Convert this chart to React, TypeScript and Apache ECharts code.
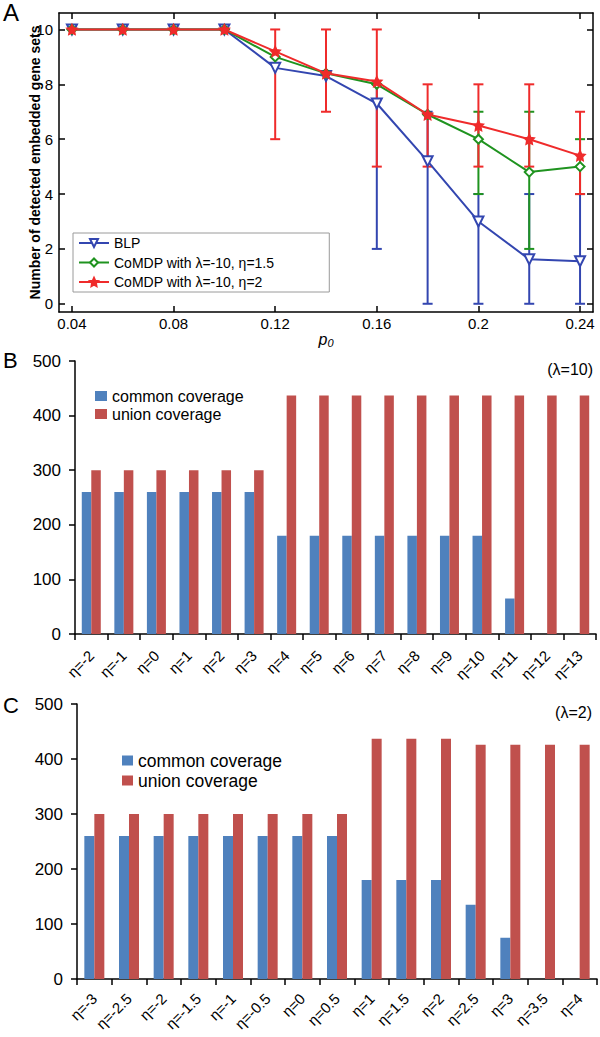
import React, { useEffect, useRef } from "react";
import * as echarts from "echarts";

// ---------- Panel A data ----------
const pValues = [0.04, 0.06, 0.08, 0.1, 0.12, 0.14, 0.16, 0.18, 0.2, 0.22, 0.24];
const pTicks = [0.04, 0.08, 0.12, 0.16, 0.2, 0.24];
const aYTicks = [0, 2, 4, 6, 8, 10];
const blpValues = [10, 10, 10, 10, 8.6, 8.3, 7.3, 5.2, 3.0, 1.62, 1.55];
const comdp15Values = [10, 10, 10, 10, 9.0, 8.4, 8.0, 6.9, 6.0, 4.8, 5.0];
const comdp2Values = [10, 10, 10, 10, 9.2, 8.4, 8.1, 6.9, 6.5, 6.0, 5.4];
// error bars [low, high]
const blpErr: ([number, number] | null)[] = [null, null, null, null, null, null, [2, 8], [0, 7], [0, 4], [0, 4], [0, 4]];
const comdp15Err: ([number, number] | null)[] = [null, null, null, null, null, null, null, null, [4, 7], [2, 7], [4, 6]];
const comdp2Err: ([number, number] | null)[] = [null, null, null, null, [6, 10], [7, 10], [5, 10], [5, 8], [5, 8], [5, 8], [4, 7]];

const nameBLP = "BLP";
const nameC15 = "CoMDP with λ=-10, η=1.5";
const nameC2 = "CoMDP with λ=-10, η=2";

// ---------- Panel B data (λ=10) ----------
const etaB = ["η=-2", "η=-1", "η=0", "η=1", "η=2", "η=3", "η=4", "η=5", "η=6", "η=7", "η=8", "η=9", "η=10", "η=11", "η=12", "η=13"];
const commonB = [260, 260, 260, 260, 260, 260, 180, 180, 180, 180, 180, 180, 180, 65, 0, 0];
const unionB = [300, 300, 300, 300, 300, 300, 437, 437, 437, 437, 437, 437, 437, 437, 437, 437];

// ---------- Panel C data (λ=2) ----------
const etaC = ["η=-3", "η=-2.5", "η=-2", "η=-1.5", "η=-1", "η=-0.5", "η=0", "η=0.5", "η=1", "η=1.5", "η=2", "η=2.5", "η=3", "η=3.5", "η=4"];
const commonC = [260, 260, 260, 260, 260, 260, 260, 260, 180, 180, 180, 135, 75, 0, 0];
const unionC = [300, 300, 300, 300, 300, 300, 300, 300, 437, 437, 437, 426, 426, 426, 426];

const BLUE_A = "#3346b0";
const GREEN_A = "#1f931f";
const RED_A = "#ef2b2b";
const BAR_BLUE = "#4f81bd";
const BAR_RED = "#c0504d";
const FONT = "'Liberation Sans', Arial, sans-serif";

const starPath =
  "path://M0,-10 L2.9,-4 9.5,-3.1 4.7,1.5 5.9,8.1 0,5 -5.9,8.1 -4.7,1.5 -9.5,-3.1 -2.9,-4 Z";

function errSeries(color: string, errs: ([number, number] | null)[], lw: number, z: number) {
  const data: number[][] = [];
  pValues.forEach((x, i) => {
    const e = errs[i];
    if (e) data.push([x, e[0], e[1]]);
  });
  return {
    type: "custom",
    xAxisIndex: 0,
    yAxisIndex: 0,
    z,
    silent: true,
    data,
    renderItem: (_params: any, api: any) => {
      const x = api.value(0);
      const lo = api.coord([x, api.value(1)]);
      const hi = api.coord([x, api.value(2)]);
      const cap = 5;
      const style = { stroke: color, lineWidth: lw };
      return {
        type: "group",
        children: [
          { type: "line", shape: { x1: lo[0], y1: lo[1], x2: hi[0], y2: hi[1] }, style },
          { type: "line", shape: { x1: lo[0] - cap, y1: lo[1], x2: lo[0] + cap, y2: lo[1] }, style },
          { type: "line", shape: { x1: hi[0] - cap, y1: hi[1], x2: hi[0] + cap, y2: hi[1] }, style },
        ],
      };
    },
  };
}

function lineSeries(name: string, values: number[], color: string, symbol: string, size: number, rotate: number, z: number) {
  return {
    type: "line",
    name,
    xAxisIndex: 0,
    yAxisIndex: 0,
    z,
    data: pValues.map((x, i) => [x, values[i]]),
    symbol,
    symbolSize: size,
    symbolRotate: rotate,
    lineStyle: { color, width: 2 },
    itemStyle: { color, borderColor: color, borderWidth: 1.5 },
  };
}

const fmtP = (v: number) => String(+Number(v).toFixed(2));

export default function App() {
  const ref = useRef<HTMLDivElement>(null);
  useEffect(() => {
    if (!ref.current) return;
    const chart = echarts.init(ref.current, null, { renderer: "svg" });
    const black = "#000";
    const option: any = {
      animation: false,
      textStyle: { fontFamily: FONT },
      grid: [
        { left: 59, top: 13, width: 534, height: 299, containLabel: false, outerBoundsMode: "none" },
        { left: 75, top: 361, width: 521, height: 273, containLabel: false, outerBoundsMode: "none" },
        { left: 77, top: 704, width: 520, height: 275, containLabel: false, outerBoundsMode: "none" },
      ],
      xAxis: [
        {
          gridIndex: 0,
          type: "value",
          min: 0.0349,
          max: 0.2451,
          position: "bottom",
          axisLine: { show: true, onZero: false, lineStyle: { color: black, width: 1.5 } },
          axisTick: { show: true, inside: true, length: 6, customValues: pTicks, lineStyle: { color: black, width: 1.5 } },
          axisLabel: { customValues: pTicks, formatter: fmtP, color: black, fontSize: 15, margin: 4 },
          splitLine: { show: false },
          name: "{p|p}{s|0}",
          nameLocation: "middle",
          nameGap: 19,
          nameMoveOverlap: false,
          nameTextStyle: {
            rich: {
              p: { fontStyle: "italic", fontSize: 16, color: black, fontFamily: FONT },
              s: { fontStyle: "italic", fontSize: 11, color: black, verticalAlign: "bottom", padding: [6, 0, 0, 0], fontFamily: FONT },
            },
          },
        },
        {
          gridIndex: 0,
          type: "value",
          min: 0.0349,
          max: 0.2451,
          position: "top",
          axisLine: { show: true, onZero: false, lineStyle: { color: black, width: 1.5 } },
          axisTick: { show: true, inside: true, length: 6, customValues: pTicks, lineStyle: { color: black, width: 1.5 } },
          axisLabel: { show: false, customValues: pTicks },
          splitLine: { show: false },
        },
        {
          gridIndex: 1,
          type: "category",
          data: etaB,
          axisLine: { show: true, lineStyle: { color: black, width: 1.5 } },
          axisTick: { show: true, length: 6, alignWithLabel: false, lineStyle: { color: black, width: 1.5 } },
          axisLabel: { interval: 0, rotate: 45, fontSize: 15, color: black, margin: 19 },
        },
        {
          gridIndex: 2,
          type: "category",
          data: etaC,
          axisLine: { show: true, lineStyle: { color: black, width: 1.5 } },
          axisTick: { show: true, length: 6, alignWithLabel: false, lineStyle: { color: black, width: 1.5 } },
          axisLabel: { interval: 0, rotate: 45, fontSize: 15, color: black, margin: 17 },
        },
      ],
      yAxis: [
        {
          gridIndex: 0,
          type: "value",
          min: -0.3,
          max: 10.6,
          position: "left",
          axisLine: { show: true, onZero: false, lineStyle: { color: black, width: 1.5 } },
          axisTick: { show: true, inside: true, length: 6, customValues: aYTicks, lineStyle: { color: black, width: 1.5 } },
          axisLabel: { customValues: aYTicks, color: black, fontSize: 15, margin: 6 },
          splitLine: { show: false },
          name: "Number of detected embedded gene sets",
          nameLocation: "middle",
          nameGap: 17,
          nameMoveOverlap: false,
          nameTextStyle: { fontWeight: "bold", fontSize: 14, color: black },
        },
        {
          gridIndex: 0,
          type: "value",
          min: -0.3,
          max: 10.6,
          position: "right",
          axisLine: { show: true, onZero: false, lineStyle: { color: black, width: 1.5 } },
          axisTick: { show: true, inside: true, length: 6, customValues: aYTicks, lineStyle: { color: black, width: 1.5 } },
          axisLabel: { show: false, customValues: aYTicks },
          splitLine: { show: false },
        },
        {
          gridIndex: 1,
          type: "value",
          min: 0,
          max: 500,
          interval: 100,
          axisLine: { show: true, lineStyle: { color: black, width: 1.5 } },
          axisTick: { show: true, length: 6, lineStyle: { color: black, width: 1.5 } },
          axisLabel: { color: black, fontSize: 17, margin: 14 },
          splitLine: { show: false },
        },
        {
          gridIndex: 2,
          type: "value",
          min: 0,
          max: 500,
          interval: 100,
          axisLine: { show: true, lineStyle: { color: black, width: 1.5 } },
          axisTick: { show: true, length: 6, lineStyle: { color: black, width: 1.5 } },
          axisLabel: { color: black, fontSize: 17, margin: 14 },
          splitLine: { show: false },
        },
      ],
      legend: [
        {
          data: [nameBLP, nameC15, nameC2],
          orient: "vertical",
          left: 73,
          top: 233,
          itemWidth: 30,
          itemHeight: 10,
          itemGap: 3.5,
          padding: [2, 55, 2, 5],
          borderColor: "#9a9a9a",
          borderWidth: 1,
          backgroundColor: "#fff",
          selectedMode: false,
          textStyle: { fontSize: 14, color: black, lineHeight: 16, fontFamily: FONT },
        },
        {
          data: [
            { name: "common coverage", icon: "rect" },
            { name: "union coverage", icon: "rect" },
          ],
          orient: "vertical",
          left: 95,
          top: 387,
          itemWidth: 12,
          itemHeight: 10,
          itemGap: 0,
          padding: 0,
          selectedMode: false,
          textStyle: { fontSize: 16, color: black, lineHeight: 18, fontFamily: FONT },
        },
        {
          data: [
            { name: "common coverage", icon: "rect" },
            { name: "union coverage", icon: "rect" },
          ],
          orient: "vertical",
          left: 122,
          top: 751,
          itemWidth: 11,
          itemHeight: 10,
          itemGap: 1,
          padding: 0,
          selectedMode: false,
          textStyle: { fontSize: 17.5, color: black, lineHeight: 19, fontFamily: FONT },
        },
      ],
      graphic: [
        { type: "text", left: 3, top: 0, style: { text: "A", fontSize: 24, fill: black, fontFamily: FONT } },
        { type: "text", left: 3, top: 349, style: { text: "B", fontSize: 22, fill: black, fontFamily: FONT } },
        { type: "text", left: 3, top: 694, style: { text: "C", fontSize: 22, fill: black, fontFamily: FONT } },
        { type: "text", right: 7, top: 361, style: { text: "(λ=10)", fontSize: 16, fill: black, fontFamily: FONT } },
        { type: "text", right: 8, top: 704, style: { text: "(λ=2)", fontSize: 16, fill: black, fontFamily: FONT } },
      ],
      series: [
        errSeries(BLUE_A, blpErr, 2, 1),
        errSeries(GREEN_A, comdp15Err, 2, 1),
        errSeries(RED_A, comdp2Err, 2, 1),
        lineSeries(nameBLP, blpValues, BLUE_A, "emptyTriangle", 10, 180, 3),
        lineSeries(nameC15, comdp15Values, GREEN_A, "emptyDiamond", 9, 0, 4),
        lineSeries(nameC2, comdp2Values, RED_A, starPath, 10, 0, 5),
        {
          type: "bar",
          name: "common coverage",
          xAxisIndex: 2,
          yAxisIndex: 2,
          data: commonB,
          barWidth: 9.5,
          barGap: "0%",
          itemStyle: { color: BAR_BLUE },
        },
        {
          type: "bar",
          name: "union coverage",
          xAxisIndex: 2,
          yAxisIndex: 2,
          data: unionB,
          barWidth: 9.5,
          barGap: "0%",
          itemStyle: { color: BAR_RED },
        },
        {
          type: "bar",
          name: "common coverage",
          xAxisIndex: 3,
          yAxisIndex: 3,
          data: commonC,
          barWidth: 10,
          barGap: "0%",
          itemStyle: { color: BAR_BLUE },
        },
        {
          type: "bar",
          name: "union coverage",
          xAxisIndex: 3,
          yAxisIndex: 3,
          data: unionC,
          barWidth: 10,
          barGap: "0%",
          itemStyle: { color: BAR_RED },
        },
      ],
    };
    chart.setOption(option);
    return () => chart.dispose();
  }, []);
  return (
    <div
      ref={ref}
      style={{ position: "absolute", left: 0, top: 0, width: 600, height: 1037, background: "#fff" }}
    />
  );
}
